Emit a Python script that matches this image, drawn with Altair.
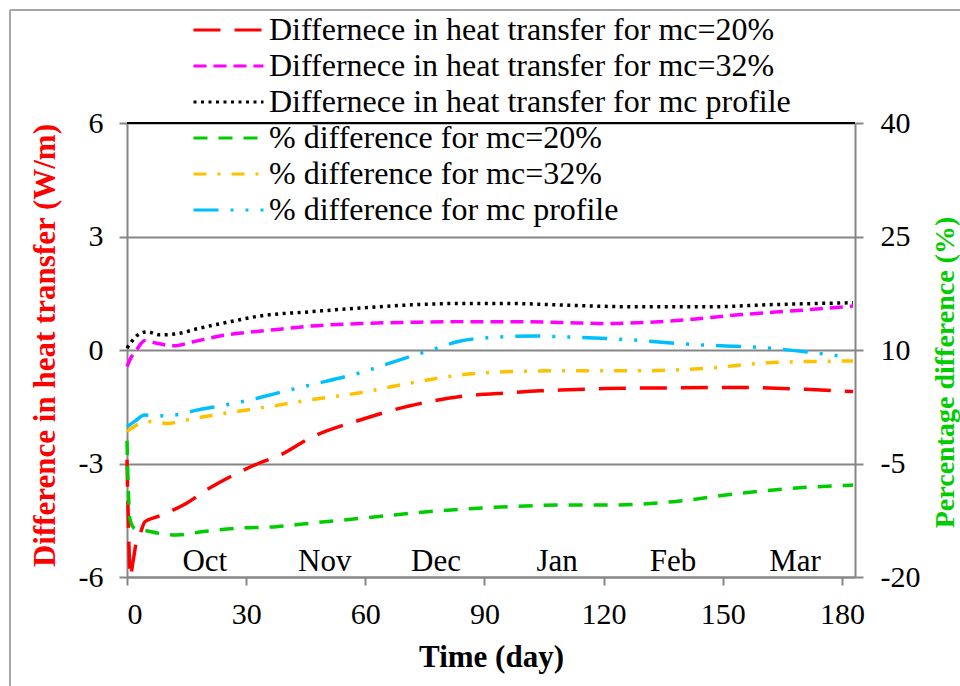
import altair as alt
import pandas as pd

# Legend order, colours and dash patterns of the six curves
series_names = [
    "Differnece in heat transfer for mc=20%",
    "Differnece in heat transfer for mc=32%",
    "Differnece in heat transfer for mc profile",
    "% difference for mc=20%",
    "% difference for mc=32%",
    "% difference for mc profile",
]
series_colors = ["#FF0000", "#FF00FF", "#000000", "#00CC00", "#FFC000", "#00BFFF"]
series_dashes = [
    [27, 14],
    [13, 7],
    [3, 4.5],
    [14, 11],
    [13, 11, 3, 11],
    [25, 12, 3, 12, 3, 12],
]

# Difference in heat transfer (W/m), left axis
days_h20 = [0, 0.4, 0.8, 1.5, 2.5, 3.3, 4.5, 7.5, 10.8, 15, 20, 26, 33.5, 38.5, 46, 58.7,
            71, 84, 96.4, 104, 109, 120.8, 137.5, 154, 171, 182.8]
heat_20 = [-2.9, -4.8, -6.0, -5.6, -5.0, -4.85, -4.54, -4.41, -4.27, -4.05, -3.70, -3.35, -2.98,
           -2.78, -2.33, -1.85, -1.48, -1.23, -1.13, -1.08, -1.06, -1.02, -1.0, -0.99, -1.04, -1.10]

days_h32 = [0, 1, 2.4, 4.5, 7.5, 11.7, 16.7, 23.4, 31.8, 38.5, 46, 58.7, 71, 84, 96.4, 109,
            120.8, 137.5, 154, 171, 182.8]
heat_32 = [-0.44, -0.2, 0.0, 0.25, 0.18, 0.11, 0.22, 0.37, 0.48, 0.55, 0.63, 0.70, 0.73, 0.75,
           0.75, 0.73, 0.70, 0.77, 0.93, 1.06, 1.16]

days_hp = [0, 1, 2.5, 5, 8.3, 12, 18.4, 26, 33.5, 46, 58.7, 71, 84, 96.4, 109, 129, 146,
           162.6, 182.8]
heat_prof = [0.05, 0.2, 0.38, 0.48, 0.40, 0.42, 0.58, 0.75, 0.90, 1.01, 1.11, 1.19, 1.23, 1.23,
             1.19, 1.14, 1.14, 1.20, 1.25]

# Percentage difference (%), right axis
days_p20 = [0, 0.3, 0.8, 2, 4.1, 8.3, 12.5, 19.2, 27.6, 37.7, 46, 58.7, 71, 84, 96.4, 109,
            120.8, 137.5, 154, 171, 182.8]
pct_20 = [-2.0, -8.0, -12.5, -13.6, -13.8, -14.25, -14.45, -14.0, -13.55, -13.35, -12.9, -12.25,
          -11.6, -11.05, -10.7, -10.5, -10.5, -10.05, -8.95, -8.15, -7.85]

days_p32 = [0, 1, 3.3, 6.6, 10, 15, 21.7, 31.8, 38.5, 46, 58.7, 71, 84, 96.4, 109, 129, 146,
            162.7, 182.8]
pct_32 = [-0.8, -0.4, 0.3, 0.55, 0.3, 0.75, 1.4, 2.2, 2.75, 3.4, 4.35, 5.6, 6.7, 7.15, 7.25,
          7.25, 7.6, 8.35, 8.55]

days_pp = [0, 2, 4.5, 8.3, 12, 17.5, 23.4, 31.8, 38.5, 46, 58.7, 71, 77.5, 84, 92, 102.7, 109,
           125, 141.7, 162.7, 179.5]
pct_prof = [-0.15, 0.6, 1.4, 1.3, 1.4, 2.05, 2.6, 3.5, 4.4, 5.35, 7.0, 9.1, 10.15, 11.2, 11.65,
            11.85, 11.75, 11.4, 10.75, 10.2, 9.2]

# Month labels along the bottom of the plot
months = ["Oct", "Nov", "Dec", "Jan", "Feb", "Mar"]
month_days = [19.6, 49.8, 77.8, 108.3, 137.5, 168.2]


def frame(days, values, name):
    return pd.DataFrame({"day": days, "value": values, "series": name})


heat_df = pd.concat([
    frame(days_h20, heat_20, series_names[0]),
    frame(days_h32, heat_32, series_names[1]),
    frame(days_hp, heat_prof, series_names[2]),
])
pct_df = pd.concat([
    frame(days_p20, pct_20, series_names[3]),
    frame(days_p32, pct_32, series_names[4]),
    frame(days_pp, pct_prof, series_names[5]),
])
month_df = pd.DataFrame({"day": month_days, "month": months})

FONT = "Liberation Serif"
GRAY = "#868686"
# plain hyphen for negative tick labels
HYPHEN_LABEL = "datum.value < 0 ? '-' + abs(datum.value) : '' + datum.value"

legend = alt.Legend(
    title=None, orient="none", legendX=65, legendY=-111, direction="vertical",
    symbolType="stroke", symbolSize=4900, symbolStrokeWidth=3, clipHeight=36,
    labelFont=FONT, labelFontSize=32, labelColor="black", labelLimit=0,
    labelOffset=4, rowPadding=0, padding=0,
)
color = alt.Color("series:N", scale=alt.Scale(domain=series_names, range=series_colors),
                  legend=legend)
dash = alt.StrokeDash("series:N", scale=alt.Scale(domain=series_names, range=series_dashes),
                      legend=legend)

x_enc = alt.X(
    "day:Q",
    scale=alt.Scale(domain=[0, 183.3], nice=False, zero=False),
    axis=alt.Axis(
        values=[0, 30, 60, 90, 120, 150, 180], title="Time (day)", grid=False,
        labelPadding=14, titleFontSize=31, titleFontWeight="bold", titleColor="black",
        titleY=80, titleBaseline="middle",
    ),
)

heat_lines = alt.Chart(heat_df).mark_line(strokeWidth=3.5, interpolate="monotone").encode(
    x=x_enc,
    y=alt.Y(
        "value:Q",
        scale=alt.Scale(domain=[-6, 6], nice=False, zero=False),
        axis=alt.Axis(
            values=[-6, -3, 0, 3, 6], grid=True, labelPadding=16, labelExpr=HYPHEN_LABEL,
            title="Difference in heat transfer (W/m)", titleColor="#FF0000",
            titleFontSize=31, titleFontWeight="bold", titleAngle=270,
            titleX=-82, titleY=222, titleAlign="center", titleBaseline="middle",
        ),
    ),
    color=color,
    strokeDash=dash,
)

top_line = alt.Chart(pd.DataFrame({"k": [0]})).mark_rule(color="black", strokeWidth=2).encode(
    y=alt.datum(6)
)

month_text = alt.Chart(month_df).mark_text(
    font=FONT, fontSize=31, color="black", baseline="middle", align="center"
).encode(x=alt.X("day:Q"), y=alt.datum(-5.6), text="month:N")

# outer chart-area border (top and left edges)
border_left = alt.Chart(pd.DataFrame({"k": [0]})).mark_rule(color="#A6A6A6", strokeWidth=2).encode(
    x=alt.value(-117), y=alt.value(-113), y2=alt.value(563)
)
border_top = alt.Chart(pd.DataFrame({"k": [0]})).mark_rule(color="#A6A6A6", strokeWidth=2).encode(
    x=alt.value(-117), x2=alt.value(833), y=alt.value(-113)
)

pct_lines = alt.Chart(pct_df).mark_line(strokeWidth=3.5, interpolate="monotone").encode(
    x=x_enc,
    y=alt.Y(
        "value:Q",
        scale=alt.Scale(domain=[-20, 40], nice=False, zero=False),
        axis=alt.Axis(
            orient="right", values=[-20, -5, 10, 25, 40], grid=False, labelPadding=17,
            labelExpr=HYPHEN_LABEL,
            title="Percentage difference (%)", titleColor="#00CC00",
            titleFontSize=28, titleFontWeight="bold", titleAngle=270,
            titleX=90, titleY=249, titleAlign="center", titleBaseline="middle",
        ),
    ),
    color=color,
    strokeDash=dash,
)

left_layer = alt.layer(border_left, border_top, heat_lines, top_line, month_text)

chart = alt.layer(left_layer, pct_lines).resolve_scale(y="independent").properties(
    width=728,
    height=454,
    padding={"left": 127, "top": 123, "right": 105, "bottom": 109},
    autosize=alt.AutoSizeParams(type="none"),
).configure(background="white").configure_view(stroke=None).configure_axis(
    domainColor=GRAY, domainWidth=2, tickColor=GRAY, tickWidth=2, tickSize=8,
    gridColor=GRAY, gridWidth=2, labelFont=FONT, labelFontSize=30, labelColor="black",
    titleFont=FONT,
).configure_legend(labelFont=FONT, labelFontSize=32, labelColor="black")

chart.save("out.html", embed_options={"renderer": "svg", "actions": False})
